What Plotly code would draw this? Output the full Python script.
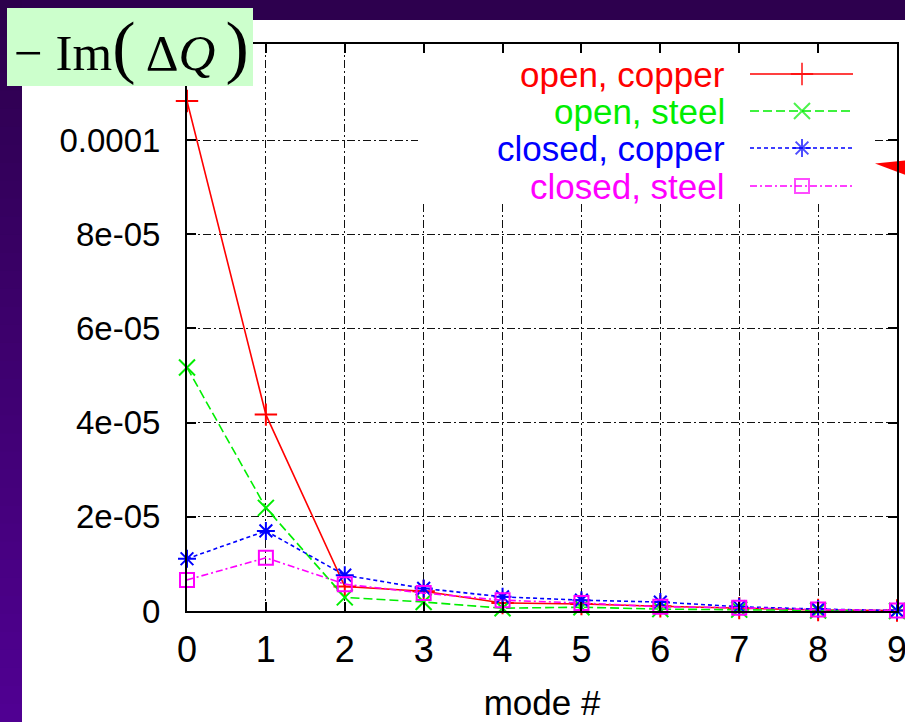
import plotly.graph_objects as go

# ---- data: -Im(dQ) per mode number ----
modes = list(range(10))
open_copper = [1.083e-4, 4.17e-5, 5.2e-6, 4.2e-6, 1.7e-6, 1.5e-6, 1.0e-6, 6e-7, 2e-7, 1e-7]
open_steel = [5.17e-5, 2.19e-5, 2.9e-6, 1.9e-6, 6e-7, 8e-7, 4e-7, 3e-7, 1e-7, 0.0]
closed_copper = [1.11e-5, 1.70e-5, 7.6e-6, 4.8e-6, 3.0e-6, 2.3e-6, 1.9e-6, 9e-7, 4e-7, 1e-7]
closed_steel = [6.6e-6, 1.13e-5, 5.7e-6, 3.8e-6, 2.3e-6, 1.7e-6, 9e-7, 7e-7, 3e-7, 1e-7]

series_names = ["open, copper", "open, steel", "closed, copper", "closed, steel"]
series_values = [open_copper, open_steel, closed_copper, closed_steel]

y_tick_vals = [0, 2e-5, 4e-5, 6e-5, 8e-5, 1e-4]
y_tick_text = ["0", "2e-05", "4e-05", "6e-05", "8e-05", "0.0001"]
x_tick_vals = modes
x_tick_text = [str(m) for m in modes]

X_RANGE = [0, 9]
Y_RANGE = [0, 1.204e-4]

# ---- geometry (pixels) ----
W, H = 905, 722
L, R, T, B = 187, 8, 44, 111
PW, PH = W - L - R, H - T - B


def px(xp):
    return (xp - L) / PW


def py(yp):
    return (H - B - yp) / PH


def dx(xp):
    return X_RANGE[0] + px(xp) * (X_RANGE[1] - X_RANGE[0])


def dy(yp):
    return Y_RANGE[0] + py(yp) * (Y_RANGE[1] - Y_RANGE[0])


SANS = "Liberation Sans, Arial, Helvetica, sans-serif"
SERIF = "Liberation Serif, Times New Roman, serif"

styles = [
    dict(color="#ff0000", dash="solid", symbol="cross-thin-open", size=16),
    dict(color="#00ee00", dash="9px,4px", symbol="x-thin-open", size=16),
    dict(color="#0000ff", dash="4px,3px", symbol="asterisk-open", size=15),
    dict(color="#ff00ff", dash="7px,3px,2px,3px", symbol="square-open", size=14),
]

fig = go.Figure()

for name, vals, st in zip(series_names, series_values, styles):
    fig.add_trace(go.Scatter(
        x=modes, y=vals, name=name, mode="lines+markers",
        line=dict(color=st["color"], width=1.6, dash=st["dash"]),
        marker=dict(symbol=st["symbol"], size=st["size"], color=st["color"],
                    line=dict(color=st["color"], width=2)),
        cliponaxis=False, showlegend=False,
    ))

# key samples, drawn on a pixel-scaled overlay axis
key_rows = [74, 111, 148, 186]
key_x = [750, 802, 853]
for name, row, st in zip(series_names, key_rows, styles):
    fig.add_trace(go.Scatter(
        x=key_x, y=[row] * 3, mode="lines+markers", xaxis="x2", yaxis="y2",
        line=dict(color=st["color"], width=1.6, dash=st["dash"]),
        marker=dict(symbol=st["symbol"], size=[0, st["size"], 0], color=st["color"],
                    line=dict(color=st["color"], width=2)),
        cliponaxis=False, showlegend=False, hoverinfo="skip",
    ))
    fig.add_annotation(
        text=name, xref="paper", yref="paper", x=px(727), y=py(row),
        xanchor="right", yanchor="middle", showarrow=False,
        font=dict(family=SANS, size=35, color=st["color"]),
    )

shapes = []
# slide background: dark strip with a purple gradient down the left edge
n_bands = 40
top_rgb, bot_rgb = (0x2C, 0x00, 0x4C), (0x50, 0x00, 0x92)
for i in range(n_bands):
    f = i / (n_bands - 1)
    c = tuple(round(a + (b - a) * f) for a, b in zip(top_rgb, bot_rgb))
    y0 = H * i / n_bands
    y1 = H * (i + 1) / n_bands + 1
    shapes.append(dict(type="rect", xref="paper", yref="paper",
                       x0=px(0), x1=px(22), y0=py(y1), y1=py(y0),
                       fillcolor="rgb(%d,%d,%d)" % c, line=dict(width=0), layer="below"))
# white chart canvas
shapes.append(dict(type="rect", xref="paper", yref="paper",
                   x0=px(22), x1=px(W + 2), y0=py(H + 2), y1=py(20),
                   fillcolor="white", line=dict(width=0), layer="below"))
# red pointer at right edge
pts = [(875, 163.5), (906, 160.5), (906, 175)]
path = "M " + " L ".join("%f,%f" % (px(a), py(b)) for a, b in pts) + " Z"
shapes.append(dict(type="path", xref="paper", yref="paper", path=path,
                   fillcolor="#ff0000", line=dict(width=0), layer="below"))
# label box
shapes.append(dict(type="rect", xref="paper", yref="paper",
                   x0=px(7), x1=px(253), y0=py(86), y1=py(8),
                   fillcolor="#ccffcc", line=dict(width=0), layer="above"))
# key area blanks the grid behind it
shapes.append(dict(type="rect", xref="x", yref="y",
                   x0=dx(418), x1=dx(872), y0=dy(203), y1=Y_RANGE[1],
                   fillcolor="white", line=dict(width=0), layer="between"))

fig.add_annotation(
    text="\u2212 Im<span style='font-size:70px'>(</span>\u2009\u0394<i>Q</i>\u2009<span style='font-size:70px'>)</span>",
    xref="paper", yref="paper", x=px(131), y=py(46), xanchor="center", yanchor="middle",
    showarrow=False, font=dict(family=SERIF, size=51, color="black"),
)

axis_common = dict(
    showline=True, linecolor="black", linewidth=2, mirror="allticks",
    ticks="inside", ticklen=9, tickwidth=1.5, tickcolor="black",
    showgrid=True, gridcolor="#111111", gridwidth=1.2, griddash="8px,3px,2px,3px",
    zeroline=False, automargin=False, ticklabeloverflow="allow",
)

fig.update_layout(
    width=W, height=H,
    margin=dict(l=L, r=R, t=T, b=B, pad=0),
    paper_bgcolor="#2D004E", plot_bgcolor="white",
    shapes=shapes,
    xaxis=dict(range=X_RANGE, tickvals=x_tick_vals, ticktext=x_tick_text,
               tickfont=dict(family=SANS, size=36, color="black"), ticklabelstandoff=6,
               title=dict(text="mode #", font=dict(family=SANS, size=35, color="black"), standoff=24),
               **axis_common),
    yaxis=dict(range=Y_RANGE, tickvals=y_tick_vals, ticktext=y_tick_text,
               tickfont=dict(family=SANS, size=33, color="black"), ticklabelstandoff=18,
               **axis_common),
    xaxis2=dict(overlaying="x", anchor="y2", range=[L, W - R], visible=False, fixedrange=True),
    yaxis2=dict(overlaying="y", anchor="x2", range=[H - B, T], visible=False, fixedrange=True),
    showlegend=False,
)

fig.write_html("out.html")
